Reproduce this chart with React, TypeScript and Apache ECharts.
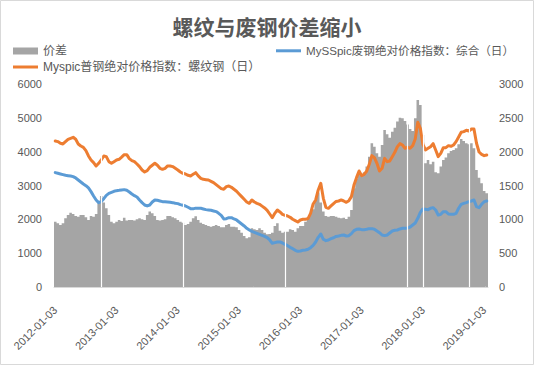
import React, { useEffect, useRef } from 'react';
import * as echarts from 'echarts';

// Yearly tick labels on the category axis
const yearTicks = [
  '2012-01-03', '2013-01-03', '2014-01-03', '2015-01-03',
  '2016-01-03', '2017-01-03', '2018-01-03', '2019-01-03',
];

// Dates without data (holidays) shown as thin white gaps in the bars
const gapDates = ['2012-10-03', '2014-02-03', '2015-10-03', '2017-10-03', '2018-01-03', '2018-10-03'];

// 价差 (right axis), semi-monthly readings
const spread = [
  966, 941, 917, 941, 1015, 1064, 1099, 1079, 1050, 1040, 1064, 1064, 1030, 991, 1050, 1040, 1079, 1237, 1345, 1247, 1163, 1064, 966, 941,
  966, 991, 975, 1025, 981, 991, 991, 981, 1001, 1015, 1001, 991, 1064, 1114, 1089, 1050, 991, 981, 991, 1001, 1050, 1050, 1030, 1015,
  991, 966, 951, 917, 932, 966, 1015, 1045, 991, 951, 932, 917, 902, 892, 902, 917, 902, 882, 882, 917, 932, 892, 892, 882,
  843, 803, 754, 720, 734, 867, 852, 843, 867, 843, 803, 780, 784, 803, 902, 941, 833, 803, 818, 818, 852, 843, 818, 867,
  902, 902, 966, 1030, 1089, 1148, 1286, 1395, 1247, 1114, 1050, 1040, 1050, 1050, 1040, 1025, 1015, 1025, 1005, 1040, 1138, 1458, 1597, 1665,
  1655, 1695, 1779, 1926, 2124, 2074, 1976, 1926, 2099, 2321, 2257, 2207, 2296, 2355, 2444, 2503, 2493, 2454, 2400, 2335, 2306, 2493, 2764, 2690,
  2247, 1828, 1877, 1813, 1852, 1695, 1680, 1779, 1877, 1912, 1976, 2010, 2025, 2050, 2109, 2188, 2158, 2124, 2109, 2124, 2050, 1729, 1616, 1532,
  1419, 1385,
];

// MySSpic废钢绝对价格指数：综合（日） (left axis)
const scrapIndex = [
  3380, 3360, 3341, 3321, 3301, 3291, 3282, 3262, 3223, 3163, 3104, 3045, 2996, 2927, 2819, 2691, 2572, 2493, 2523, 2611, 2710, 2769, 2799, 2829,
  2848, 2858, 2870, 2878, 2858, 2809, 2750, 2700, 2661, 2572, 2493, 2424, 2395, 2424, 2513, 2572, 2562, 2543, 2523, 2523, 2513, 2503, 2493, 2474,
  2464, 2434, 2415, 2395, 2356, 2316, 2310, 2330, 2326, 2326, 2306, 2287, 2277, 2267, 2247, 2228, 2178, 2119, 2011, 2020, 2050, 2050, 2011, 1981,
  1922, 1863, 1804, 1735, 1685, 1646, 1617, 1587, 1557, 1528, 1498, 1460, 1390, 1291, 1311, 1331, 1331, 1301, 1262, 1222, 1173, 1134, 1084, 1055,
  1065, 1084, 1094, 1114, 1163, 1232, 1331, 1469, 1567, 1410, 1370, 1390, 1429, 1455, 1495, 1508, 1527, 1537, 1508, 1518, 1577, 1666, 1705, 1715,
  1695, 1695, 1705, 1725, 1725, 1705, 1656, 1606, 1537, 1518, 1537, 1596, 1656, 1676, 1685, 1715, 1735, 1735, 1745, 1774, 1833, 1892, 2030, 2207,
  2306, 2296, 2286, 2326, 2345, 2276, 2128, 2148, 2227, 2227, 2158, 2148, 2148, 2178, 2326, 2444, 2473, 2493, 2522, 2542, 2572, 2375, 2345, 2444,
  2522, 2542,
];

// Myspic普钢绝对价格指数：螺纹钢（日） (left axis)
const rebarIndex = [
  4316, 4297, 4247, 4228, 4297, 4366, 4395, 4425, 4366, 4228, 4168, 4129, 4030, 3873, 3755, 3676, 3577, 3656, 3755, 3873, 3853, 3705, 3656, 3705,
  3755, 3774, 3840, 3910, 3912, 3794, 3735, 3705, 3636, 3558, 3459, 3400, 3439, 3538, 3597, 3656, 3597, 3508, 3479, 3508, 3577, 3577, 3558, 3508,
  3459, 3400, 3360, 3341, 3301, 3282, 3330, 3380, 3282, 3213, 3183, 3173, 3163, 3124, 3085, 3026, 2966, 2907, 2888, 2966, 2986, 2947, 2888, 2829,
  2750, 2671, 2592, 2513, 2474, 2572, 2513, 2474, 2444, 2390, 2336, 2267, 2158, 2050, 2178, 2277, 2218, 2149, 2119, 2099, 2060, 2001, 1961, 1922,
  1981, 2001, 2001, 2020, 2178, 2454, 2572, 2868, 3065, 2621, 2356, 2326, 2395, 2465, 2528, 2542, 2572, 2542, 2503, 2552, 2670, 3015, 3232, 3429,
  3291, 3330, 3429, 3626, 3882, 3823, 3656, 3429, 3508, 3803, 3705, 3725, 3853, 3981, 4148, 4237, 4197, 4099, 4138, 4099, 4178, 4375, 4867, 4690,
  4217, 4050, 4099, 4148, 4237, 4050, 3853, 3951, 4119, 4119, 4178, 4158, 4197, 4296, 4434, 4572, 4592, 4631, 4611, 4671, 4671, 4250, 3990, 3922,
  3882, 3902,
];

const seriesNames = ['价差', 'MySSpic废钢绝对价格指数：综合（日）', 'Myspic普钢绝对价格指数：螺纹钢（日）'];

function buildCategories(n: number): string[] {
  const out: string[] = [];
  for (let y = 2012; y <= 2019 && out.length < n; y++) {
    for (let m = 1; m <= 12 && out.length < n; m++) {
      for (const d of ['03', '18']) {
        if (out.length < n) out.push(`${y}-${m < 10 ? '0' + m : m}-${d}`);
      }
    }
  }
  return out;
}

const FONT = "'Liberation Sans', 'Noto Sans CJK SC', sans-serif";
const TEXT = '#595959';

export default function App() {
  const ref = useRef<HTMLDivElement>(null);
  useEffect(() => {
    if (!ref.current) return;
    const chart = echarts.init(ref.current, undefined, { renderer: 'svg' });
    const categories = buildCategories(spread.length);
    const isYear = (_i: number, v: string) => yearTicks.includes(v);
    const legendText = { color: TEXT, fontSize: 12, fontFamily: FONT };
    const plain = (v: number) => String(v);
    chart.setOption({
      animation: false,
      backgroundColor: '#ffffff',
      textStyle: { fontFamily: FONT },
      graphic: [
        {
          type: 'rect',
          shape: { x: 0.5, y: 0.5, width: 533, height: 364 },
          style: { fill: 'none', stroke: '#D9D9D9', lineWidth: 1 },
          silent: true,
        },
      ],
      title: {
        text: '螺纹与废钢价差缩小',
        left: 'center',
        top: 10,
        textStyle: { fontSize: 21, fontWeight: 'bold', color: TEXT, fontFamily: "'Noto Sans CJK SC', sans-serif" },
      },
      legend: [
        { data: [seriesNames[0]], left: 13, top: 45, padding: 0, icon: 'rect', itemWidth: 25, itemHeight: 7, itemGap: 4, textStyle: legendText },
        { data: [seriesNames[1]], left: 276, top: 45, padding: 0, icon: 'rect', itemWidth: 25, itemHeight: 3, textStyle: { ...legendText, fontSize: 11.6 } },
        { data: [seriesNames[2]], left: 13, top: 61, padding: 0, icon: 'rect', itemWidth: 25, itemHeight: 3, textStyle: legendText },
      ],
      grid: { left: 54, right: 46, top: 84, bottom: 78 },
      xAxis: {
        type: 'category',
        data: categories,
        boundaryGap: true,
        axisLine: { lineStyle: { color: '#D9D9D9', width: 1 } },
        axisTick: { interval: isYear, alignWithLabel: true, length: 4, lineStyle: { color: '#D9D9D9' } },
        axisLabel: { interval: isYear, rotate: 45, color: TEXT, fontSize: 11, margin: 21, fontFamily: FONT },
        splitLine: { show: false },
      },
      yAxis: [
        {
          type: 'value', position: 'left', min: 0, max: 6000, interval: 1000,
          axisLine: { show: false }, axisTick: { show: false }, splitLine: { show: false },
          axisLabel: { color: TEXT, fontSize: 11, margin: 12, fontFamily: FONT, formatter: plain },
        },
        {
          type: 'value', position: 'right', min: 0, max: 3000, interval: 500,
          axisLine: { show: false }, axisTick: { show: false }, splitLine: { show: false },
          axisLabel: { color: TEXT, fontSize: 11, margin: 11, fontFamily: FONT, formatter: plain },
        },
      ],
      series: [
        {
          name: seriesNames[0],
          type: 'bar',
          yAxisIndex: 1,
          data: spread,
          barCategoryGap: '0%',
          large: true,
          largeThreshold: 50,
          itemStyle: { color: '#A5A5A5' },
          z: 2,
          markLine: {
            silent: true,
            symbol: ['none', 'none'],
            label: { show: false },
            lineStyle: { color: '#ffffff', width: 1.2, type: 'solid' },
            data: gapDates.map((d) => ({ xAxis: d })),
          },
        },
        {
          name: seriesNames[1],
          type: 'line',
          yAxisIndex: 0,
          data: scrapIndex,
          symbol: 'none',
          showSymbol: false,
          lineStyle: { color: '#5B9BD5', width: 3, join: 'round', cap: 'round' },
          itemStyle: { color: '#5B9BD5' },
          z: 4,
        },
        {
          name: seriesNames[2],
          type: 'line',
          yAxisIndex: 0,
          data: rebarIndex,
          symbol: 'none',
          showSymbol: false,
          lineStyle: { color: '#ED7D31', width: 3, join: 'round', cap: 'round' },
          itemStyle: { color: '#ED7D31' },
          z: 4,
        },
      ],
    });
    return () => chart.dispose();
  }, []);
  return <div ref={ref} style={{ position: 'fixed', left: 0, top: 0, width: 534, height: 365 }} />;
}
